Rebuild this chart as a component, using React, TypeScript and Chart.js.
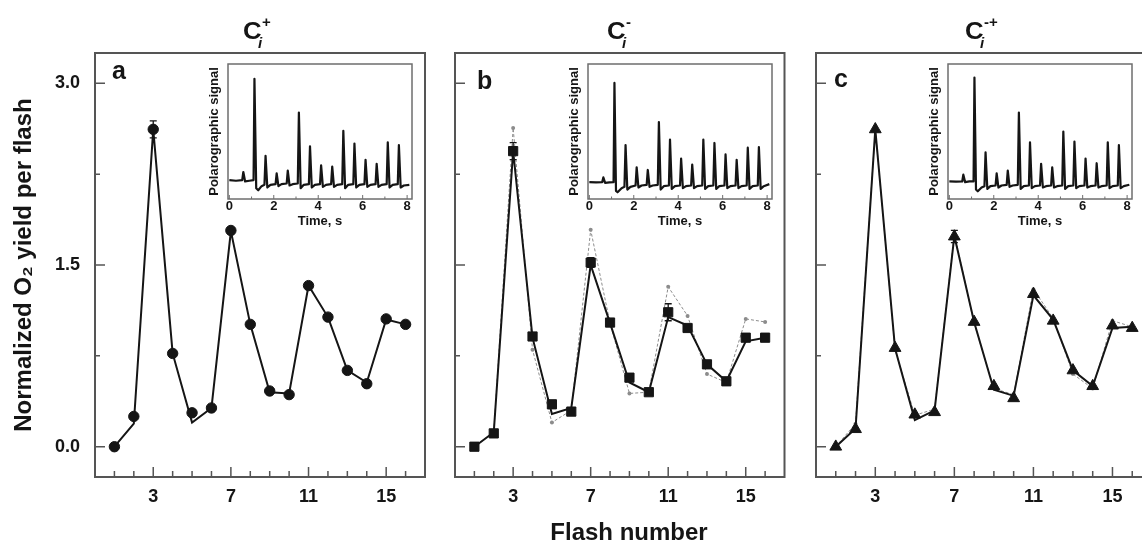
import React, { useEffect, useRef } from "react";
import { Chart, registerables } from "chart.js";
Chart.register(...registerables);

const FONT = '"Liberation Sans", Arial, Helvetica, sans-serif';
const INK = "#151515";
const FRAME = "#555555";
const GREY = "#8c8c8c";

// ---------- data ----------
const flashNumbers = [1, 2, 3, 4, 5, 6, 7, 8, 9, 10, 11, 12, 13, 14, 15, 16];
const xTickLabels = [3, 7, 11, 15];
const yTickLabels = [0, 1.5, 3.0];
const yMinorTicks = [0.75, 2.25];
const insetTickLabels = [0, 2, 4, 6, 8];
const insetMinorTicks = [1, 3, 5, 7];

const yieldA = [0, 0.25, 2.62, 0.77, 0.28, 0.32, 1.785, 1.01, 0.46, 0.43, 1.33, 1.07, 0.63, 0.52, 1.055, 1.01];
const fitA = [0, 0.19, 2.62, 0.77, 0.2, 0.32, 1.78, 1.01, 0.45, 0.44, 1.33, 1.07, 0.63, 0.53, 1.05, 1.01];
const errA = [0, 0, 0.07, 0, 0, 0, 0, 0, 0, 0, 0, 0, 0, 0, 0, 0];

const yieldB = [0, 0.11, 2.44, 0.91, 0.35, 0.29, 1.52, 1.025, 0.57, 0.45, 1.11, 0.98, 0.68, 0.54, 0.9, 0.9];
const fitB = [0, 0.12, 2.44, 0.9, 0.27, 0.32, 1.5, 1.02, 0.53, 0.45, 1.07, 1.0, 0.68, 0.54, 0.87, 0.9];
const refB = [0, 0.12, 2.63, 0.8, 0.2, 0.3, 1.79, 1.02, 0.44, 0.45, 1.32, 1.08, 0.6, 0.53, 1.055, 1.03];
const errB = [0, 0, 0.07, 0, 0, 0, 0.04, 0, 0, 0, 0.07, 0, 0, 0, 0, 0];

const yieldC = [0, 0.145, 2.62, 0.815, 0.265, 0.285, 1.735, 1.03, 0.5, 0.4, 1.26, 1.04, 0.63, 0.5, 1.0, 0.98];
const fitC = [0, 0.15, 2.62, 0.81, 0.22, 0.3, 1.74, 1.03, 0.47, 0.42, 1.25, 1.05, 0.63, 0.5, 0.98, 0.99];
const refC = [0, 0.19, 2.62, 0.8, 0.26, 0.31, 1.76, 1.02, 0.48, 0.43, 1.3, 1.06, 0.6, 0.48, 1.04, 0.99];
const errC = [0, 0, 0, 0, 0, 0, 0.05, 0, 0, 0, 0, 0, 0, 0, 0, 0];

// polarographic traces: [time s, signal]
const traceA = [
  [0, 14], [0.3, 13.5], [0.58, 14], [0.63, 20], [0.71, 13], [0.9, 13.5],
  [1.09, 14], [1.13, 89], [1.21, 8], [1.3, 6.5], [1.45, 9.5],
  [1.58, 10.5], [1.63, 32], [1.71, 8.5], [1.85, 10.5],
  [2.08, 11], [2.13, 19], [2.21, 9.5], [2.35, 11],
  [2.58, 11.5], [2.63, 21], [2.71, 10], [2.85, 11],
  [3.08, 11.5], [3.13, 64], [3.21, 8], [3.35, 10.5],
  [3.58, 11], [3.63, 39], [3.71, 8.5], [3.85, 10.5],
  [4.08, 11], [4.13, 25], [4.21, 9], [4.35, 10.5],
  [4.58, 11], [4.63, 24], [4.71, 9], [4.85, 10.5],
  [5.08, 11], [5.13, 50.5], [5.21, 8], [5.35, 10.5],
  [5.58, 11], [5.63, 41], [5.71, 8.5], [5.85, 10.5],
  [6.08, 11], [6.13, 29], [6.21, 9], [6.35, 10.5],
  [6.58, 11], [6.63, 26], [6.71, 9], [6.85, 10.5],
  [7.08, 11], [7.13, 42], [7.21, 8.5], [7.35, 10.5],
  [7.58, 11], [7.63, 40], [7.71, 8.5], [7.85, 10], [8.1, 10.5],
];
const traceB = [
  [0, 12.5], [0.3, 12.3], [0.58, 12.5], [0.63, 16], [0.71, 12], [0.9, 12.3],
  [1.09, 12.5], [1.13, 86], [1.2, 6], [1.27, 5], [1.45, 8],
  [1.58, 9], [1.63, 40], [1.71, 7], [1.85, 9],
  [2.08, 10], [2.13, 23.5], [2.21, 8.5], [2.35, 10],
  [2.58, 10.5], [2.63, 21.5], [2.71, 9], [2.85, 10],
  [3.08, 10.5], [3.13, 57], [3.21, 7], [3.35, 9.5],
  [3.58, 10], [3.63, 44], [3.71, 7.5], [3.85, 9.5],
  [4.08, 10], [4.13, 30], [4.21, 8], [4.35, 9.5],
  [4.58, 10], [4.63, 25.5], [4.71, 8], [4.85, 9.5],
  [5.08, 10], [5.13, 44], [5.21, 7.5], [5.35, 9.5],
  [5.58, 10], [5.63, 41.5], [5.71, 7.5], [5.85, 9.5],
  [6.08, 10], [6.13, 33], [6.21, 8], [6.35, 9.5],
  [6.58, 10], [6.63, 29], [6.71, 8], [6.85, 9.5],
  [7.08, 10], [7.13, 38], [7.21, 7.5], [7.35, 9.5],
  [7.58, 10], [7.63, 38.5], [7.71, 7.5], [7.85, 9.5], [8.1, 11],
];
const traceC = [
  [0, 13], [0.3, 12.8], [0.58, 13], [0.63, 18], [0.71, 12.5], [0.9, 13],
  [1.09, 13], [1.13, 90], [1.2, 7], [1.28, 5.7], [1.45, 8.5],
  [1.58, 9.5], [1.63, 34.5], [1.71, 7.5], [1.85, 9.5],
  [2.08, 10], [2.13, 19], [2.21, 8.5], [2.35, 10],
  [2.58, 10.5], [2.63, 21], [2.71, 9], [2.85, 10],
  [3.08, 10.5], [3.13, 64], [3.21, 7.5], [3.35, 9.5],
  [3.58, 10], [3.63, 42], [3.71, 8], [3.85, 9.5],
  [4.08, 10], [4.13, 26], [4.21, 8.5], [4.35, 9.5],
  [4.58, 10], [4.63, 23.5], [4.71, 8.5], [4.85, 9.5],
  [5.08, 10], [5.13, 50], [5.21, 7.5], [5.35, 9.5],
  [5.58, 10], [5.63, 42.5], [5.71, 8], [5.85, 9.5],
  [6.08, 10], [6.13, 30], [6.21, 8.5], [6.35, 9.5],
  [6.58, 10], [6.63, 26.5], [6.71, 8.5], [6.85, 9.5],
  [7.08, 10], [7.13, 42], [7.21, 8], [7.35, 9.5],
  [7.58, 10], [7.63, 40], [7.71, 8], [7.85, 9.5], [8.1, 10.6],
];

// ---------- layout ----------
const PANELS = [
  { key: "a", canvasLeft: 0, canvasWidth: 432, axisW: 95, padRight: 7, showY: true,
    values: yieldA, fit: fitA, ref: null as number[] | null, err: errA, marker: "circle", radius: 5.2,
    letter: "a", letterX: 112, letterY: 79, titleLeft: 243, sup: "+" },
  { key: "b", canvasLeft: 430, canvasWidth: 362, axisW: 25, padRight: 5, showY: false,
    values: yieldB, fit: fitB, ref: refB, err: errB, marker: "rect", radius: 6.5,
    letter: "b", letterX: 477, letterY: 89, titleLeft: 607, sup: "-" },
  { key: "c", canvasLeft: 790, canvasWidth: 370, axisW: 26, padRight: 8, showY: false,
    values: yieldC, fit: fitC, ref: refC, err: errC, marker: "triangle", radius: 6.8,
    letter: "c", letterX: 834, letterY: 87, titleLeft: 965, sup: "-+" },
];
const INSETS = [
  { key: "ia", canvasLeft: 200, trace: traceA },
  { key: "ib", canvasLeft: 560, trace: traceB },
  { key: "ic", canvasLeft: 920, trace: traceC },
];

function mainPlugin(p: any) {
  return {
    id: "deco" + p.key,
    afterDatasetsDraw(chart: any) {
      const { ctx, scales } = chart;
      ctx.save();
      ctx.strokeStyle = INK;
      ctx.lineWidth = 1.3;
      ctx.beginPath();
      flashNumbers.forEach((f, i) => {
        const e = p.err[i];
        if (!e) return;
        const x = scales.x.getPixelForValue(f);
        const yt = scales.y.getPixelForValue(p.values[i] + e);
        const yb = scales.y.getPixelForValue(p.values[i] - e);
        ctx.moveTo(x, yt); ctx.lineTo(x, yb);
        ctx.moveTo(x - 3.5, yt); ctx.lineTo(x + 3.5, yt);
        ctx.moveTo(x - 3.5, yb); ctx.lineTo(x + 3.5, yb);
      });
      ctx.stroke();
      ctx.restore();
    },
    afterDraw(chart: any) {
      const { ctx, chartArea: ca, scales } = chart;
      ctx.save();
      ctx.strokeStyle = FRAME;
      ctx.lineWidth = 2;
      ctx.strokeRect(ca.left, ca.top, ca.right - ca.left, ca.bottom - ca.top);
      ctx.lineWidth = 1.5;
      ctx.beginPath();
      flashNumbers.forEach((v) => {
        const x = scales.x.getPixelForValue(v);
        const len = xTickLabels.includes(v) ? 10 : 6;
        ctx.moveTo(x, ca.bottom); ctx.lineTo(x, ca.bottom - len);
      });
      yTickLabels.forEach((v) => {
        const y = scales.y.getPixelForValue(v);
        ctx.moveTo(ca.left, y); ctx.lineTo(ca.left + 10, y);
      });
      yMinorTicks.forEach((v) => {
        const y = scales.y.getPixelForValue(v);
        ctx.moveTo(ca.left, y); ctx.lineTo(ca.left + 5, y);
      });
      ctx.stroke();

      ctx.fillStyle = INK;
      ctx.textBaseline = "alphabetic";
      ctx.textAlign = "left";
      ctx.font = `bold 25px ${FONT}`;
      ctx.fillText(p.letter, p.letterX - p.canvasLeft, p.letterY);

      // title C_i^sup
      const cx = p.titleLeft - p.canvasLeft;
      ctx.font = `bold 23px ${FONT}`;
      const sx = 1.12;
      const cw = ctx.measureText("C").width * sx;
      ctx.save();
      ctx.translate(cx, 39);
      ctx.scale(sx, 1);
      ctx.fillText("C", 0, 0);
      ctx.restore();
      ctx.font = `bold 15px ${FONT}`;
      ctx.fillText(p.sup, cx + cw + 0.5, 26.5);
      ctx.font = `italic bold 15px ${FONT}`;
      ctx.fillText("i", cx + cw - 3.5, 47.5);

      if (p.key === "b") {
        ctx.font = `bold 24px ${FONT}`;
        ctx.textAlign = "center";
        ctx.fillText("Flash number", 629 - p.canvasLeft, 540);
      }
      ctx.restore();
    },
  };
}

function makeMain(canvas: HTMLCanvasElement, p: any) {
  const pts = (vals: number[]) => flashNumbers.map((x, i) => ({ x, y: vals[i] }));
  const datasets: any[] = [
    { data: pts(p.values), showLine: false, pointStyle: p.marker, pointRadius: p.radius,
      pointBackgroundColor: INK, pointBorderColor: INK, pointBorderWidth: 1 },
    { data: pts(p.fit), showLine: true, borderColor: INK, borderWidth: 2, pointRadius: 0, fill: false },
  ];
  if (p.ref) {
    datasets.push({ data: pts(p.ref), showLine: true, borderColor: GREY, borderWidth: 1, borderDash: [3, 2],
      pointRadius: 2, pointBackgroundColor: GREY, pointBorderColor: GREY, pointBorderWidth: 0, fill: false });
  }
  return new Chart(canvas, {
    type: "scatter",
    data: { datasets },
    options: {
      animation: false,
      responsive: false,
      devicePixelRatio: 1,
      events: [],
      layout: { padding: { left: 0, right: p.padRight, top: 53, bottom: 0 } },
      plugins: { legend: { display: false }, tooltip: { enabled: false } },
      scales: {
        x: {
          type: "linear", min: 0, max: 17,
          grid: { display: false, drawTicks: false }, border: { display: false },
          ticks: { color: INK, font: { family: FONT, size: 18, weight: "bold" }, padding: 9, maxRotation: 0, autoSkip: false },
          afterBuildTicks: (s: any) => { s.ticks = xTickLabels.map((v) => ({ value: v })); },
          afterFit: (s: any) => { s.height = 67; },
        },
        y: {
          type: "linear", min: -0.25, max: 3.25,
          grid: { display: false, drawTicks: false }, border: { display: false },
          ticks: { display: p.showY, color: INK, font: { family: FONT, size: 18, weight: "bold" }, padding: 15,
            callback: (v: any) => Number(v).toFixed(1) },
          afterBuildTicks: (s: any) => { s.ticks = yTickLabels.map((v) => ({ value: v })); },
          afterFit: (s: any) => { s.width = p.axisW; },
          title: { display: p.showY, text: "Normalized O₂ yield per flash", color: INK,
            font: { family: FONT, size: 24, weight: "bold" }, padding: { top: 9.6, bottom: 0 } },
        },
      },
    } as any,
    plugins: [mainPlugin(p)],
  });
}

function insetPlugin(key: string) {
  return {
    id: "inset" + key,
    afterDraw(chart: any) {
      const { ctx, chartArea: ca, scales } = chart;
      ctx.save();
      ctx.strokeStyle = "#6e6e6e";
      ctx.lineWidth = 1.5;
      ctx.strokeRect(ca.left, ca.top, ca.right - ca.left, ca.bottom - ca.top);
      ctx.lineWidth = 1;
      ctx.beginPath();
      insetTickLabels.forEach((v) => {
        const x = scales.x.getPixelForValue(v);
        ctx.moveTo(x, ca.bottom); ctx.lineTo(x, ca.bottom - 4);
      });
      insetMinorTicks.forEach((v) => {
        const x = scales.x.getPixelForValue(v);
        ctx.moveTo(x, ca.bottom); ctx.lineTo(x, ca.bottom - 2.5);
      });
      ctx.stroke();
      ctx.restore();
    },
  };
}

function makeInset(canvas: HTMLCanvasElement, q: any) {
  return new Chart(canvas, {
    type: "scatter",
    data: {
      datasets: [
        { data: q.trace.map(([x, y]: number[]) => ({ x, y })), showLine: true, borderColor: INK,
          borderWidth: 2.2, pointRadius: 0, fill: false, tension: 0, borderJoinStyle: "round" },
      ],
    },
    options: {
      animation: false,
      responsive: false,
      devicePixelRatio: 1,
      events: [],
      layout: { padding: { left: 0, right: 8, top: 9, bottom: 0 } },
      plugins: { legend: { display: false }, tooltip: { enabled: false } },
      scales: {
        x: {
          type: "linear", min: -0.06, max: 8.22,
          grid: { display: false, drawTicks: false }, border: { display: false },
          ticks: { color: INK, font: { family: FONT, size: 13, weight: "bold" }, padding: 0, maxRotation: 0, autoSkip: false },
          afterBuildTicks: (s: any) => { s.ticks = insetTickLabels.map((v) => ({ value: v })); },
          afterFit: (s: any) => { s.height = 41; },
          title: { display: true, text: "Time, s", color: INK, font: { family: FONT, size: 13, weight: "bold" },
            padding: { top: 0, bottom: 11 } },
        },
        y: {
          type: "linear", min: 0, max: 100,
          grid: { display: false, drawTicks: false }, border: { display: false },
          ticks: { display: false },
          afterFit: (s: any) => { s.width = 28; },
          title: { display: true, text: "Polarographic signal", color: INK, font: { family: FONT, size: 13, weight: "bold" },
            padding: { top: 7, bottom: 0 } },
        },
      },
    } as any,
    plugins: [insetPlugin(q.key)],
  });
}

export default function App() {
  const refs = useRef<(HTMLCanvasElement | null)[]>([]);
  useEffect(() => {
    const charts: Chart[] = [];
    PANELS.forEach((p, i) => {
      const c = refs.current[i];
      if (c) charts.push(makeMain(c, p));
    });
    INSETS.forEach((q, i) => {
      const c = refs.current[3 + i];
      if (c) charts.push(makeInset(c, q));
    });
    return () => charts.forEach((c) => c.destroy());
  }, []);
  return (
    <div style={{ position: "absolute", left: 0, top: 0, width: 1142, height: 544, overflow: "hidden", background: "#fff" }}>
      {PANELS.map((p, i) => (
        <canvas key={p.key} ref={(el) => { refs.current[i] = el; }} width={p.canvasWidth} height={544}
          style={{ position: "absolute", left: p.canvasLeft, top: 0, width: p.canvasWidth, height: 544 }} />
      ))}
      {INSETS.map((q, i) => (
        <canvas key={q.key} ref={(el) => { refs.current[3 + i] = el; }} width={220} height={185}
          style={{ position: "absolute", left: q.canvasLeft, top: 55, width: 220, height: 185 }} />
      ))}
    </div>
  );
}
